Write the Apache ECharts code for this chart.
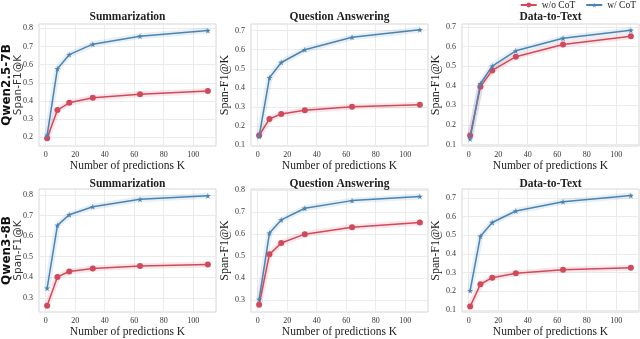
<!DOCTYPE html>
<html>
<head>
<meta charset="utf-8">
<script src="https://cdn.jsdelivr.net/npm/echarts@6/dist/echarts.min.js"></script>
<style>
  html, body { margin: 0; padding: 0; background: #fff; }
  #main { width: 640px; height: 339px; }
</style>
</head>
<body>
<div id="main"></div>
<script>
// number of predictions K
const kValues = [1, 8, 16, 32, 64, 110];
const xTicks = [0, 20, 40, 60, 80, 100];
const tasks = ['Summarization', 'Question Answering', 'Data-to-Text'];
const models = ['Qwen2.5-7B', 'Qwen3-8B'];

// Qwen2.5-7B
const q25SumNoCot = [0.195, 0.350, 0.390, 0.418, 0.437, 0.455];
const q25SumCot   = [0.210, 0.578, 0.655, 0.713, 0.757, 0.788];
const q25QaNoCot  = [0.150, 0.237, 0.263, 0.282, 0.301, 0.312];
const q25QaCot    = [0.145, 0.453, 0.533, 0.600, 0.665, 0.705];
const q25DttNoCot = [0.145, 0.395, 0.478, 0.548, 0.610, 0.652];
const q25DttCot   = [0.128, 0.410, 0.500, 0.578, 0.642, 0.683];

// Qwen3-8B
const q3SumNoCot = [0.262, 0.402, 0.428, 0.443, 0.455, 0.462];
const q3SumCot   = [0.347, 0.652, 0.703, 0.742, 0.778, 0.795];
const q3QaNoCot  = [0.278, 0.508, 0.560, 0.600, 0.632, 0.653];
const q3QaCot    = [0.302, 0.605, 0.665, 0.718, 0.753, 0.772];
const q3DttNoCot = [0.117, 0.237, 0.272, 0.296, 0.315, 0.325];
const q3DttCot   = [0.202, 0.495, 0.568, 0.630, 0.680, 0.713];

// y tick labels per panel
const yTicksA = [0.2, 0.3, 0.4, 0.5, 0.6, 0.7, 0.8];
const yTicksB = [0.1, 0.2, 0.3, 0.4, 0.5, 0.6, 0.7];
const yTicksC = [0.3, 0.4, 0.5, 0.6, 0.7, 0.8];

const RED = '#d1495b';
const BLUE = '#4a84b2';
const STAR = 'path://M50,0 L61,35 L98,35 L68,57 L79,91 L50,70 L21,91 L32,57 L2,35 L39,35 Z';
const SERIF = '"Liberation Serif", "DejaVu Serif", serif';

const panels = [
  { noCot: q25SumNoCot, cot: q25SumCot, ticks: yTicksA, yMin: 0.152, yMax: 0.824 },
  { noCot: q25QaNoCot,  cot: q25QaCot,  ticks: yTicksB, yMin: 0.095, yMax: 0.735 },
  { noCot: q25DttNoCot, cot: q25DttCot, ticks: yTicksB, yMin: 0.092, yMax: 0.715 },
  { noCot: q3SumNoCot,  cot: q3SumCot,  ticks: yTicksC, yMin: 0.232, yMax: 0.828 },
  { noCot: q3QaNoCot,   cot: q3QaCot,   ticks: yTicksC, yMin: 0.245, yMax: 0.806 },
  { noCot: q3DttNoCot,  cot: q3DttCot,  ticks: yTicksB, yMin: 0.088, yMax: 0.748 }
];

const colLeft = [39, 251, 462];
const rowTop = [24, 189];
const gridW = 177;
const gridH = [122, 123];

const grids = [], xAxes = [], yAxes = [], series = [], titles = [], graphics = [];

panels.forEach((p, i) => {
  const row = Math.floor(i / 3), col = i % 3;
  grids.push({
    left: colLeft[col], top: rowTop[row], width: gridW, height: gridH[row],
    show: true, borderColor: '#d6d6d6', borderWidth: 1, backgroundColor: '#fff'
  });
  xAxes.push({
    type: 'value', gridIndex: i, min: -4.5, max: 115.5,
    name: 'Number of predictions K', nameLocation: 'middle', nameGap: 13,
    nameTextStyle: { fontFamily: SERIF, fontSize: 11.5, color: '#222' },
    axisLine: { show: false }, axisTick: { show: false, customValues: xTicks },
    axisLabel: { customValues: xTicks, fontFamily: SERIF, fontSize: 8, color: '#333', margin: 5 },
    splitLine: { show: true, lineStyle: { color: '#ebebeb', width: 1 } }
  });
  yAxes.push({
    type: 'value', gridIndex: i, min: p.yMin, max: p.yMax,
    name: col === 0 ? '' : 'Span-F1@K', nameLocation: 'middle', nameGap: 17,
    nameTextStyle: { fontFamily: SERIF, fontSize: 12, color: '#222' },
    axisLine: { show: false }, axisTick: { show: false, customValues: p.ticks },
    axisLabel: { customValues: p.ticks, fontFamily: SERIF, fontSize: 8, color: '#333', margin: 6,
      formatter: v => v.toFixed(1) },
    splitLine: { show: true, lineStyle: { color: '#ebebeb', width: 1 } }
  });
  const pts = arr => kValues.map((k, j) => [k, arr[j]]);
  // faint band under each line
  [[p.noCot, RED], [p.cot, BLUE]].forEach(([arr, c]) => {
    series.push({
      type: 'line', name: 'band', xAxisIndex: i, yAxisIndex: i, data: pts(arr),
      symbol: 'none', silent: true, z: 1,
      lineStyle: { color: c, width: 6, opacity: 0.13 }
    });
  });
  series.push({
    type: 'line', name: 'w/o CoT', xAxisIndex: i, yAxisIndex: i, data: pts(p.noCot),
    symbol: 'circle', symbolSize: 6, z: 3,
    itemStyle: { color: RED }, lineStyle: { color: RED, width: 1.5 }
  });
  series.push({
    type: 'line', name: 'w/ CoT', xAxisIndex: i, yAxisIndex: i, data: pts(p.cot),
    symbol: STAR, symbolSize: 6, z: 4,
    itemStyle: { color: BLUE }, lineStyle: { color: BLUE, width: 1.5 }
  });
  titles.push({
    text: tasks[col], left: colLeft[col] + gridW / 2, top: rowTop[row] - (row === 0 ? 13 : 11),
    textAlign: 'center', padding: 0,
    textStyle: { fontFamily: SERIF, fontSize: 11.5, fontWeight: 'bold', color: '#222' }
  });
});

// row labels on the left: model name (bold) + metric
models.forEach((m, r) => {
  const cy = rowTop[r] + gridH[r] / 2;
  graphics.push({
    type: 'text', x: 7, y: cy, rotation: Math.PI / 2,
    style: { text: m, fontFamily: '"DejaVu Sans", sans-serif', fontSize: 12, fontWeight: 'bold',
      fill: '#111', align: 'center', verticalAlign: 'middle' }
  });
  graphics.push({
    type: 'text', x: 18, y: cy, rotation: Math.PI / 2,
    style: { text: 'Span-F1@K', fontFamily: '"DejaVu Sans", sans-serif', fontSize: 10.5,
      fill: '#333', align: 'center', verticalAlign: 'middle' }
  });
});

const chart = echarts.init(document.getElementById('main'), null, { renderer: 'canvas' });
chart.setOption({
  backgroundColor: '#fff',
  animation: false,
  title: titles,
  legend: {
    data: ['w/o CoT', 'w/ CoT'], right: 4, top: 0, padding: 0,
    itemWidth: 16, itemHeight: 6, itemGap: 10,
    textStyle: { fontFamily: SERIF, fontSize: 9.5, color: '#222' }
  },
  grid: grids,
  xAxis: xAxes,
  yAxis: yAxes,
  series: series,
  graphic: graphics
});
</script>
</body>
</html>
